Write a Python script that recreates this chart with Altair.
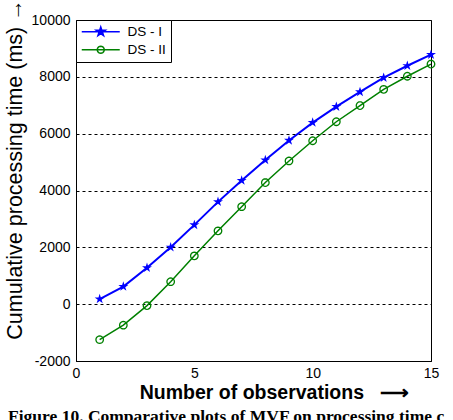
import math
import altair as alt
import pandas as pd

# Cumulative processing time (ms) per number of observations
observations = list(range(1, 16))
ds1_ms = [180, 620, 1280, 2000, 2790, 3600, 4350, 5070, 5760, 6390, 6950, 7470, 7970, 8390, 8780]
ds2_ms = [-1250, -740, -50, 790, 1700, 2580, 3430, 4280, 5040, 5750, 6420, 6990, 7560, 8020, 8450]

series_names = ["DS - I", "DS - II"]
series_colors = ["#0000ff", "#008000"]

x_ticks = [0, 5, 10, 15]
y_ticks = [-2000, 0, 2000, 4000, 6000, 8000, 10000]

caption = "Figure 10. Comparative plots of MVF on processing time c"

df = pd.DataFrame({
    "obs": observations * 2,
    "ms": ds1_ms + ds2_ms,
    "series": [series_names[0]] * len(observations) + [series_names[1]] * len(observations),
})


def star_path(cx, r_out):
    r_in = r_out * 0.382
    pts = []
    for k in range(10):
        ang = math.radians(-90 + 36 * k)
        r = r_out if k % 2 == 0 else r_in
        pts.append((cx + r * math.cos(ang), r * math.sin(ang)))
    return "M" + "L".join(f"{x:.3f},{y:.3f}" for x, y in pts) + "Z"


def ring_path(cx, r, n=20):
    pts = [(cx + r * math.cos(2 * math.pi * k / n), r * math.sin(2 * math.pi * k / n)) for k in range(n)]
    return "M" + "L".join(f"{x:.3f},{y:.3f}" for x, y in pts) + "Z"


marker_paths = [star_path(0, 1.0), ring_path(0, 1.0)]

# legend glyphs: a short line segment with the marker in its middle
seg = "M-1.2,0L6.4,0"
legend_paths = [seg + star_path(2.6, 0.95), seg + ring_path(2.6, 0.7)]

# non-breaking spaces keep the gap before the arrow from collapsing
x_title = "Number of observations" + "\u00a0" * 3 + "\u27f6"

x_enc = alt.X("obs:Q", scale=alt.Scale(domain=[0, 15], nice=False),
              axis=alt.Axis(values=x_ticks, title=x_title,
                            titleFont="Liberation Sans", titleFontSize=19.5, titleFontWeight="bold",
                            titleX=198, titleY=31, titleBaseline="middle", titleAlign="center",
                            labelFontSize=14, labelPadding=5, labelFlush=False, grid=False))
y_enc = alt.Y("ms:Q", scale=alt.Scale(domain=[-2000, 10000], nice=False),
              axis=alt.Axis(values=y_ticks, labelExpr="'' + datum.value",
                            title="Cumulative processing time (ms)\u00a0\u2192",
                            titleFont="Liberation Sans", titleFontSize=21.5, titleFontWeight="normal",
                            titleAngle=-90, titleX=-61, titleY=149, titleBaseline="middle",
                            titleAlign="center",
                            labelFontSize=14, labelPadding=6,
                            grid=True, gridDash=[3, 3], gridColor="black", gridOpacity=1,
                            gridWidth=1))

base = alt.Chart(df)
layers = []
for name, color, path, width, size, filled in zip(series_names, series_colors, marker_paths,
                                                  [2, 1.5], [110, 56], [True, False]):
    sub = base.transform_filter(alt.datum.series == name)
    layers.append(sub.mark_line(color=color, strokeWidth=width).encode(x=x_enc, y=y_enc))
    layers.append(sub.mark_point(shape=path, color=color, size=size, opacity=1,
                                 filled=filled, strokeWidth=1.3)
                  .encode(x=x_enc, y=y_enc))

legend = alt.Legend(orient="none", legendX=0, legendY=0, title=None,
                    strokeColor="black", fillColor="white", padding=5, cornerRadius=0,
                    labelFont="Liberation Sans", labelFontSize=13.5, labelColor="black",
                    labelOffset=33, rowPadding=3, symbolSize=100, symbolStrokeWidth=1.5,
                    symbolOpacity=1)

# invisible marks whose only job is to carry the legend
legend_layer = base.mark_point(size=100, strokeWidth=1.5, opacity=0).encode(
    x=x_enc, y=y_enc,
    stroke=alt.Stroke("series:N", scale=alt.Scale(domain=series_names, range=series_colors), legend=legend),
    fill=alt.Fill("series:N", scale=alt.Scale(domain=series_names, range=[series_colors[0], "white"]), legend=legend),
    shape=alt.Shape("series:N", scale=alt.Scale(domain=series_names, range=legend_paths), legend=legend),
)

chart = alt.layer(*layers, legend_layer).properties(
    width=355, height=341,
    autosize=alt.AutoSizeParams(type="none"),
    padding={"left": 76, "top": 20, "right": 22, "bottom": 59},
    title=alt.TitleParams(text=caption, orient="bottom", anchor="start", dx=4, offset=6,
                          font="Liberation Serif", fontSize=17.5, fontWeight="bold",
                          color="black"),
).configure(
    font="Liberation Sans",
    background="white",
).configure_view(
    stroke="black", strokeWidth=1,
).configure_axis(
    domainColor="black", domainWidth=1, ticks=False, labelColor="black", titleColor="black",
    labelFont="Liberation Sans",
)

chart.save("out.html", embed_options={"renderer": "svg", "actions": False})
